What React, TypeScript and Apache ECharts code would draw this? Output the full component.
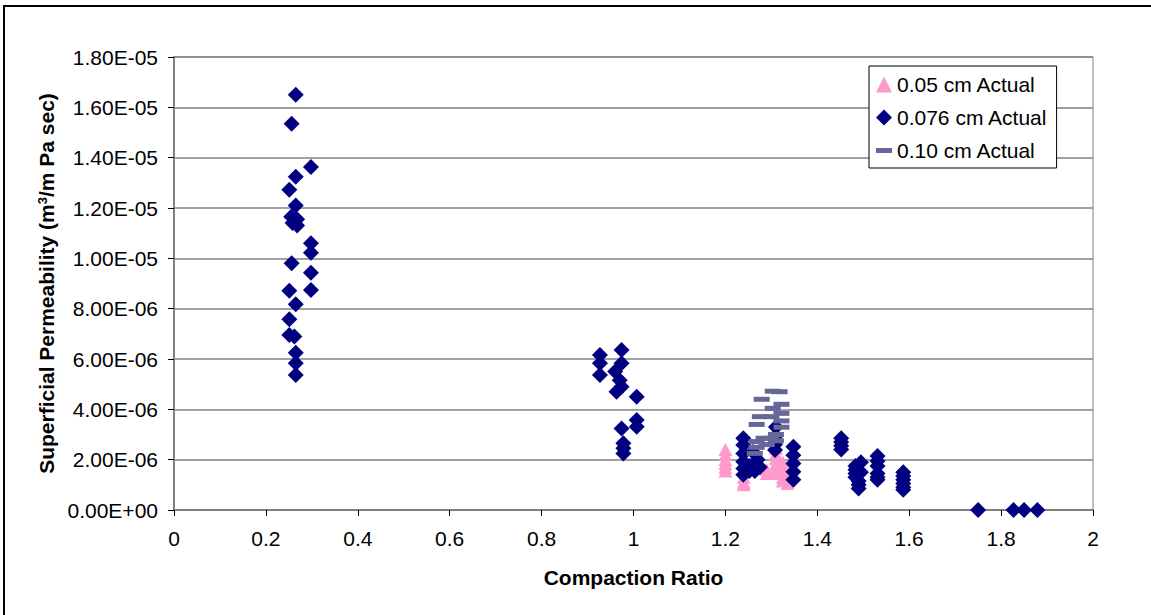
import React, { useEffect, useRef } from "react";
import * as echarts from "echarts";

// 0.05 cm Actual  [compaction ratio, permeability]
const series005: [number, number][] = [
  [1.2, 2.4e-6], [1.2, 2.2e-6], [1.2, 2.0e-6], [1.2, 1.85e-6], [1.2, 1.7e-6], [1.2, 1.55e-6],
  [1.24, 1.3e-6], [1.24, 1.1e-6], [1.24, 1.0e-6],
  [1.29, 1.6e-6], [1.29, 1.45e-6],
  [1.31, 2.45e-6], [1.31, 2.25e-6], [1.31, 2.05e-6], [1.31, 1.85e-6], [1.31, 1.65e-6], [1.31, 1.45e-6],
  [1.325, 1.9e-6], [1.325, 1.7e-6], [1.325, 1.5e-6], [1.325, 1.3e-6], [1.325, 1.15e-6],
  [1.335, 1.25e-6], [1.335, 1.05e-6],
];

// 0.076 cm Actual
const series0076: [number, number][] = [
  [0.265, 16.5e-6], [0.256, 15.35e-6], [0.298, 13.63e-6], [0.265, 13.24e-6], [0.251, 12.73e-6],
  [0.265, 12.1e-6], [0.255, 11.65e-6], [0.268, 11.55e-6], [0.258, 11.4e-6], [0.268, 11.3e-6],
  [0.298, 10.6e-6], [0.298, 10.22e-6], [0.256, 9.8e-6], [0.298, 9.43e-6], [0.251, 8.71e-6],
  [0.298, 8.74e-6], [0.265, 8.18e-6], [0.251, 7.58e-6], [0.251, 6.95e-6], [0.262, 6.89e-6],
  [0.265, 6.25e-6], [0.265, 5.83e-6], [0.265, 5.36e-6],
  [0.927, 6.16e-6], [0.974, 6.36e-6], [0.927, 5.83e-6], [0.974, 5.83e-6], [0.927, 5.36e-6],
  [0.96, 5.5e-6], [0.97, 5.16e-6], [0.963, 4.7e-6], [0.974, 4.9e-6], [1.007, 4.5e-6],
  [1.007, 3.58e-6], [1.007, 3.31e-6], [0.974, 3.24e-6], [0.978, 2.65e-6], [0.978, 2.45e-6],
  [0.978, 2.25e-6],
  [1.239, 2.85e-6], [1.239, 2.58e-6], [1.239, 2.25e-6], [1.239, 1.92e-6], [1.239, 1.65e-6], [1.239, 1.4e-6],
  [1.252, 1.75e-6], [1.252, 1.55e-6], [1.264, 1.85e-6], [1.264, 1.55e-6], [1.27, 2.0e-6],
  [1.26, 2.3e-6], [1.275, 1.7e-6],
  [1.308, 2.91e-6], [1.308, 2.6e-6], [1.308, 2.38e-6], [1.31, 3.3e-6],
  [1.348, 2.51e-6], [1.348, 2.18e-6], [1.348, 1.85e-6], [1.348, 1.52e-6], [1.348, 1.2e-6],
  [1.452, 2.85e-6], [1.452, 2.7e-6], [1.452, 2.55e-6], [1.452, 2.4e-6],
  [1.483, 1.75e-6], [1.483, 1.6e-6], [1.483, 1.45e-6], [1.483, 1.3e-6], [1.49, 1.15e-6],
  [1.49, 1.0e-6], [1.49, 0.85e-6], [1.495, 1.9e-6], [1.495, 1.5e-6],
  [1.531, 2.15e-6], [1.531, 1.95e-6], [1.531, 1.75e-6], [1.531, 1.45e-6], [1.531, 1.3e-6], [1.531, 1.2e-6],
  [1.587, 1.5e-6], [1.587, 1.35e-6], [1.587, 1.2e-6], [1.587, 1.05e-6], [1.587, 0.9e-6], [1.587, 0.8e-6],
  [1.75, 0], [1.827, 0], [1.85, 0], [1.879, 0],
];

// 0.10 cm Actual
const series010: [number, number][] = [
  [1.303, 4.72e-6], [1.318, 4.7e-6], [1.279, 4.4e-6], [1.322, 4.2e-6], [1.303, 4.04e-6],
  [1.322, 3.84e-6], [1.275, 3.71e-6], [1.3, 3.71e-6], [1.322, 3.54e-6], [1.268, 3.4e-6],
  [1.322, 3.29e-6], [1.283, 2.85e-6], [1.3, 2.85e-6], [1.268, 2.72e-6], [1.268, 2.49e-6],
  [1.264, 2.25e-6], [1.31, 3.0e-6], [1.29, 2.6e-6], [1.31, 2.75e-6],
];

const seriesNames = ["0.05 cm Actual", "0.076 cm Actual", "0.10 cm Actual"];
const xAxisTitle = "Compaction Ratio";
const yAxisTitle = "Superficial Permeability (m{sup|3}/m Pa sec)";

const FONT = "'Liberation Sans', Arial, sans-serif";
const DASH = "path://M0,0h16v5h-16z";

function fmtExp(v: number): string {
  if (Math.abs(v) < 1e-20) return "0.00E+00";
  const s = v.toExponential(2);
  const [m, e] = s.split("e");
  const n = parseInt(e, 10);
  const sign = n < 0 ? "-" : "+";
  return m + "E" + sign + String(Math.abs(n)).padStart(2, "0");
}

export default function App() {
  const ref = useRef<HTMLDivElement>(null);
  useEffect(() => {
    if (!ref.current) return;
    const chart = echarts.init(ref.current, undefined, { renderer: "svg" });
    chart.setOption({
      animation: false,
      backgroundColor: "#ffffff",
      graphic: [
        {
          type: "rect",
          shape: { x: 4, y: 6, width: 1160, height: 630 },
          style: { fill: "none", stroke: "#000000", lineWidth: 2 },
          silent: true,
        },
      ],
      grid: {
        left: 174,
        right: 58,
        top: 57,
        bottom: 105,
        show: true,
        borderColor: "#808080",
        borderWidth: 1,
        backgroundColor: "#ffffff",
      },
      legend: {
        orient: "vertical",
        left: 869,
        top: 66,
        data: [
          { name: seriesNames[0], icon: "triangle" },
          { name: seriesNames[1], icon: "diamond" },
          { name: seriesNames[2], icon: DASH },
        ],
        itemWidth: 16,
        itemHeight: 16,
        itemGap: 12,
        padding: [8, 9, 7, 7],
        borderColor: "#000000",
        borderWidth: 1,
        backgroundColor: "#ffffff",
        textStyle: { fontFamily: FONT, fontSize: 21, color: "#000000", lineHeight: 21 },
      },
      xAxis: {
        type: "value",
        min: 0,
        max: 2,
        interval: 0.2,
        name: xAxisTitle,
        nameLocation: "middle",
        nameGap: 57,
        nameTextStyle: { fontFamily: FONT, fontSize: 21, fontWeight: "bold", color: "#000000" },
        axisLine: { show: true, onZero: false, lineStyle: { color: "#808080", width: 2 } },
        axisTick: { show: true, inside: false, length: 6, lineStyle: { color: "#000000", width: 1 } },
        axisLabel: { fontFamily: FONT, fontSize: 21, color: "#000000", margin: 18 },
        splitLine: { show: false },
      },
      yAxis: {
        type: "value",
        min: 0,
        max: 1.8e-5,
        interval: 2e-6,
        name: yAxisTitle,
        nameLocation: "middle",
        nameGap: 117,
        nameRotate: 90,
        nameTextStyle: {
          fontFamily: FONT,
          fontSize: 21,
          fontWeight: "bold",
          color: "#000000",
          rich: {
            sup: { fontFamily: FONT, fontSize: 13, fontWeight: "bold", color: "#000000", verticalAlign: "top", padding: [0, 0, 8, 0] },
          },
        },
        axisLine: { show: true, lineStyle: { color: "#808080", width: 2 } },
        axisTick: { show: true, inside: false, length: 6, lineStyle: { color: "#000000", width: 1 } },
        axisLabel: { fontFamily: FONT, fontSize: 21, color: "#000000", margin: 16, formatter: fmtExp },
        splitLine: { show: true, lineStyle: { color: "#808080", width: 1.5 } },
      },
      series: [
        {
          name: seriesNames[0],
          type: "scatter",
          data: series005,
          symbol: "triangle",
          symbolSize: [14, 13],
          itemStyle: { color: "#FF99CC", opacity: 1 },
        },
        {
          name: seriesNames[1],
          type: "scatter",
          data: series0076,
          symbol: "diamond",
          symbolSize: 16,
          itemStyle: { color: "#000080", opacity: 1 },
        },
        {
          name: seriesNames[2],
          type: "scatter",
          data: series010,
          symbol: DASH,
          symbolSize: [16, 5],
          itemStyle: { color: "#666699", opacity: 1 },
        },
      ],
    });
    return () => chart.dispose();
  }, []);
  return (
    <div
      ref={ref}
      style={{ position: "fixed", left: 0, top: 0, width: 1151, height: 615, background: "#ffffff" }}
    />
  );
}
